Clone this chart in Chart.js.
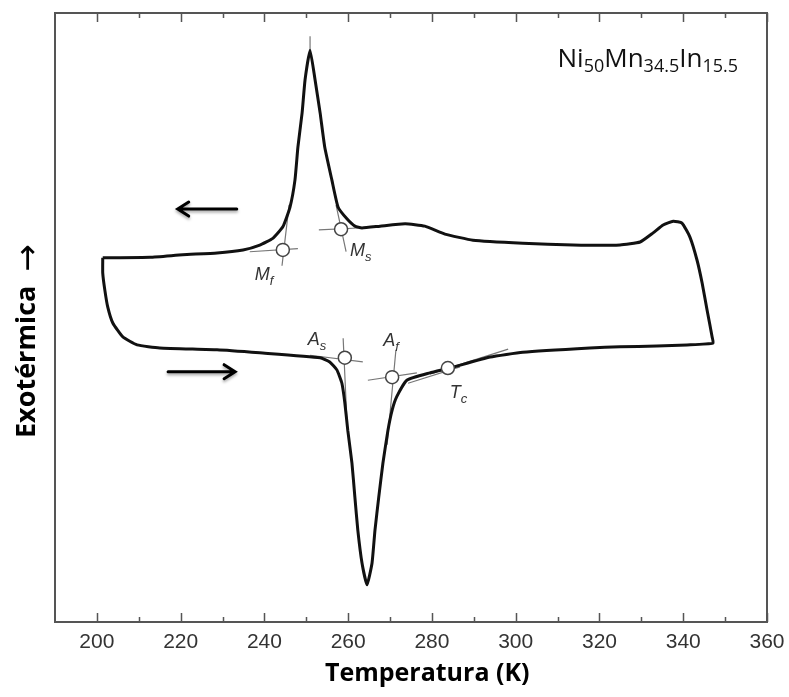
<!DOCTYPE html>
<html>
<head>
<meta charset="utf-8">
<script src="https://cdn.jsdelivr.net/npm/chart.js@4.4.1/dist/chart.umd.min.js"></script>
<style>
  html, body { margin: 0; padding: 0; background: #fff; }
  canvas { display: block; }
</style>
</head>
<body>
<canvas id="dsc-chart" width="789" height="697"></canvas>
<script>
// tick labels of the temperature axis
const xTicks = [200, 220, 240, 260, 280, 300, 320, 340, 360];
const xMinorTicks = [210, 230, 250, 270, 290, 310, 330, 350];

// heating run (lower branch), left to right: T (K) and heat flow (a.u.)
const heatT = [201.4, 201.4, 201.9, 202.6, 203.8, 206.2, 209.6, 215.0, 228.7, 238.9, 253.3, 255.6, 257.3, 258.5, 259.2, 259.9, 260.9, 261.6, 262.3, 263.3, 264.5, 265.7, 266.4, 267.3, 268.3, 269.5, 270.5, 271.6, 274.0, 279.5, 284.3, 293.9, 301.7, 317.7, 324.9, 333.7, 340.9, 347.1];
const heatV = [59.8, 57.3, 54.5, 51.7, 49.1, 46.8, 45.5, 45.0, 44.7, 44.2, 43.4, 42.7, 41.4, 39.2, 36.0, 31.5, 26.1, 20.5, 15.1, 9.7, 6.1, 9.7, 15.1, 20.5, 26.1, 31.5, 34.8, 37.0, 39.7, 40.9, 41.7, 43.5, 44.3, 45.0, 45.2, 45.3, 45.5, 45.8];

// cooling run (upper branch), right to left
const coolT = [346.9, 345.7, 344.5, 343.3, 341.6, 339.7, 337.6, 335.2, 332.8, 329.7, 324.9, 313.7, 301.7, 289.8, 283.1, 278.3, 273.6, 267.6, 263.3, 261.6, 259.7, 257.6, 256.1, 254.4, 253.3, 252.1, 250.9, 249.7, 249.0, 248.0, 247.3, 246.1, 244.4, 242.0, 238.9, 234.9, 228.7, 220.5, 212.7, 201.4];
const coolV = [46.8, 51.2, 55.7, 59.4, 63.2, 65.5, 65.8, 65.2, 63.9, 62.4, 61.9, 61.9, 62.2, 62.7, 63.7, 65.0, 65.4, 65.0, 64.7, 65.0, 66.2, 68.1, 72.6, 78.0, 83.6, 89.0, 93.9, 89.0, 83.6, 78.0, 72.6, 68.1, 64.9, 63.0, 61.9, 61.1, 60.6, 60.3, 59.9, 59.8];

// transformation points
const pointNames = ['M', 'M', 'A', 'A', 'T'];
const pointSubs = ['f', 's', 's', 'f', 'c'];
const pointT = [244.4, 258.3, 259.2, 270.5, 283.8];
const pointV = [61.1, 64.5, 43.4, 40.2, 41.7];

// tangent construction lines [start, end]
const tangentT = [[236.5, 248.0], [245.9, 244.2], [253.0, 262.3], [257.1, 259.5], [250.9, 263.5], [258.8, 259.7], [264.7, 276.4], [271.4, 269.3], [274.3, 286.7], [279.5, 298.2], [250.9, 250.9]];
const tangentV = [[60.8, 61.3], [68.5, 58.5], [64.4, 64.7], [68.5, 60.8], [43.8, 42.7], [46.6, 33.0], [39.7, 40.9], [44.7, 29.1], [39.2, 41.9], [40.7, 44.8], [96.2, 93.0]];

// direction arrows: cooling (upper) and heating (lower)
const arrowFromT = [233.4, 217.0];
const arrowToT = [219.3, 233.0];
const arrowV = [67.8, 41.1];

const yTitle = 'Exotérmica';

const loopData = heatT.map((t, i) => ({ x: t, y: heatV[i] }))
  .concat(coolT.map((t, i) => ({ x: t, y: coolV[i] })));

const tangentData = [];
tangentT.forEach((seg, i) => {
  tangentData.push({ x: seg[0], y: tangentV[i][0] }, { x: seg[1], y: tangentV[i][1] }, { x: seg[1], y: null });
});

const labelOffsets = [[-28, 30], [9, 27], [-37, -13], [-9, -31], [2, 30]];

const decorPlugin = {
  id: 'decor',
  afterDatasetsDraw(chart) {
    const { ctx, chartArea: a, scales: { x, y } } = chart;
    ctx.save();

    // frame with inward ticks
    ctx.strokeStyle = '#555';
    ctx.lineWidth = 2;
    ctx.strokeRect(a.left, a.top, a.right - a.left, a.bottom - a.top);
    ctx.lineWidth = 1.5;
    ctx.beginPath();
    xTicks.forEach(t => {
      const px = Math.round(x.getPixelForValue(t)) + 0.5;
      ctx.moveTo(px, a.bottom); ctx.lineTo(px, a.bottom - 9);
      ctx.moveTo(px, a.top); ctx.lineTo(px, a.top + 9);
    });
    xMinorTicks.forEach(t => {
      const px = Math.round(x.getPixelForValue(t)) + 0.5;
      ctx.moveTo(px, a.bottom); ctx.lineTo(px, a.bottom - 5);
      ctx.moveTo(px, a.top); ctx.lineTo(px, a.top + 5);
    });
    ctx.stroke();

    // point labels
    const meta = chart.getDatasetMeta(0);
    ctx.fillStyle = '#333';
    ctx.textBaseline = 'alphabetic';
    meta.data.forEach((pt, i) => {
      const lx = pt.x + labelOffsets[i][0];
      const ly = pt.y + labelOffsets[i][1];
      ctx.font = 'italic 18px "Liberation Sans", Arial, sans-serif';
      ctx.fillText(pointNames[i], lx, ly);
      const w = ctx.measureText(pointNames[i]).width;
      ctx.font = 'italic 13px "Liberation Sans", Arial, sans-serif';
      ctx.fillText(pointSubs[i], lx + w, ly + 5);
    });

    // arrows
    ctx.strokeStyle = '#000';
    ctx.lineWidth = 3;
    ctx.lineCap = 'round';
    ctx.shadowColor = 'rgba(0,0,0,0.35)';
    ctx.shadowBlur = 3;
    ctx.shadowOffsetY = 2;
    arrowFromT.forEach((t0, i) => {
      const x0 = x.getPixelForValue(t0);
      const x1 = x.getPixelForValue(arrowToT[i]);
      const py = y.getPixelForValue(arrowV[i]);
      const dir = x1 > x0 ? 1 : -1;
      ctx.beginPath();
      ctx.moveTo(x0, py); ctx.lineTo(x1, py);
      ctx.moveTo(x1 - dir * 11, py - 7); ctx.lineTo(x1, py); ctx.lineTo(x1 - dir * 11, py + 7);
      ctx.stroke();
    });
    ctx.shadowColor = 'transparent';

    // alloy composition
    const parts = [['Ni', false], ['50', true], ['Mn', false], ['34.5', true], ['In', false], ['15.5', true]];
    const mainFont = '26px "Open Sans", sans-serif';
    const subFont = '18px "Open Sans", sans-serif';
    let total = 0;
    parts.forEach(p => { ctx.font = p[1] ? subFont : mainFont; total += ctx.measureText(p[0]).width; });
    let cx = a.right - 29 - total;
    const base = a.top + 54;
    ctx.fillStyle = '#111';
    parts.forEach(p => {
      ctx.font = p[1] ? subFont : mainFont;
      ctx.fillText(p[0], cx, base + (p[1] ? 5 : 0));
      cx += ctx.measureText(p[0]).width;
    });

    // vertical axis title
    ctx.translate(a.left - 20, a.bottom - 184);
    ctx.rotate(-Math.PI / 2);
    ctx.fillStyle = '#000';
    ctx.font = 'bold 27px "Open Sans", sans-serif';
    ctx.fillText(yTitle, 0, 0);
    const tw = ctx.measureText(yTitle).width;
    ctx.font = '33px "DejaVu Sans", sans-serif';
    ctx.fillText('\u2192', tw + 14, 3);

    ctx.restore();
  }
};

new Chart(document.getElementById('dsc-chart'), {
  type: 'line',
  data: {
    datasets: [
      {
        label: 'Puntos',
        data: pointT.map((t, i) => ({ x: t, y: pointV[i] })),
        showLine: false,
        pointRadius: 6.5,
        pointBackgroundColor: '#fff',
        pointBorderColor: '#444',
        pointBorderWidth: 1.5
      },
      {
        label: 'DSC',
        data: loopData,
        borderColor: '#111',
        borderWidth: 3,
        pointRadius: 0,
        tension: 0.15,
        fill: false
      },
      {
        label: 'Tangentes',
        data: tangentData,
        borderColor: '#777',
        borderWidth: 1.2,
        pointRadius: 0,
        spanGaps: false
      }
    ]
  },
  options: {
    responsive: false,
    animation: false,
    layout: { padding: { top: 13, right: 22, bottom: 0, left: 0 } },
    plugins: { legend: { display: false }, tooltip: { enabled: false } },
    scales: {
      x: {
        type: 'linear',
        min: 190,
        max: 360,
        afterBuildTicks(scale) { scale.ticks = xTicks.map(v => ({ value: v })); },
        afterFit(scale) {
          scale.paddingLeft = 0; scale.paddingRight = 0;
          scale.paddingTop = 0; scale.paddingBottom = 0;
          scale.height = 75;
        },
        grid: { display: false, drawTicks: false },
        border: { display: false },
        ticks: {
          padding: 8,
          color: '#333',
          font: { family: '"Liberation Sans", Arial, sans-serif', size: 21 },
          maxRotation: 0
        },
        title: {
          display: true,
          text: '\u00a0\u00a0\u00a0\u00a0\u00a0Temperatura (K)',
          color: '#000',
          font: { family: '"Open Sans", sans-serif', size: 25, weight: 'bold' },
          padding: { top: 4, bottom: 8 }
        }
      },
      y: {
        type: 'linear',
        min: 0,
        max: 100,
        afterFit(scale) {
          scale.paddingTop = 0; scale.paddingBottom = 0;
          scale.paddingLeft = 0; scale.paddingRight = 0;
          scale.width = 55;
        },
        grid: { display: false, drawTicks: false },
        border: { display: false },
        ticks: { display: false },
        title: { display: false }
      }
    }
  },
  plugins: [decorPlugin]
});
</script>
</body>
</html>
